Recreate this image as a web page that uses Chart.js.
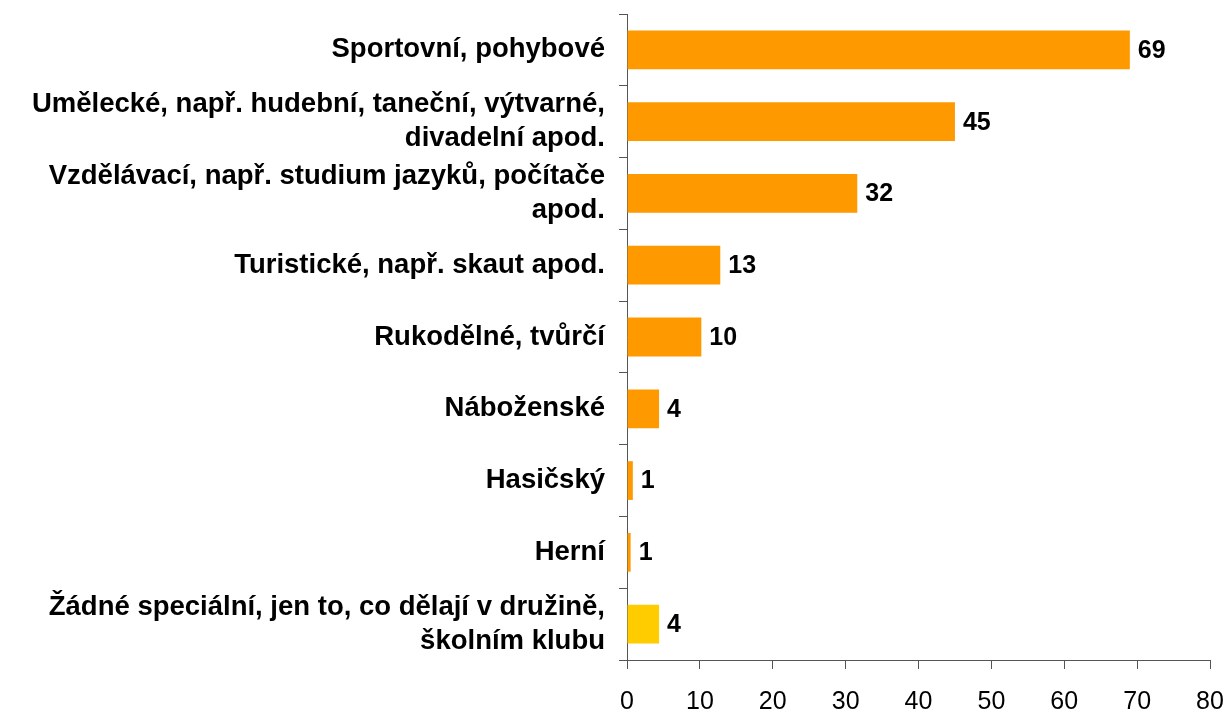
<!DOCTYPE html>
<html lang="cs">
<head>
  <meta charset="UTF-8">
  <title>Zájmové činnosti</title>
  <script src="https://cdn.jsdelivr.net/npm/chart.js"></script>
  <style>
    body {
      margin: 0;
      background: #fff;
    }
    #wrap {
      width: 1228px;
      height: 709px;
    }
  </style>
</head>
<body>

<div id="wrap"><canvas id="myChart"></canvas></div>

<script>
  // Data
  const categories = [
    'Sportovní, pohybové',
    ['Umělecké, např. hudební, taneční, výtvarné,', 'divadelní apod.'],
    ['Vzdělávací, např. studium jazyků, počítače', 'apod.'],
    'Turistické, např. skaut apod.',
    'Rukodělné, tvůrčí',
    'Náboženské',
    'Hasičský',
    'Herní',
    ['Žádné speciální, jen to, co dělají v družině,', 'školním klubu']
  ];
  const values = [69, 45, 31.6, 12.8, 10.2, 4.4, 0.8, 0.5, 4.4];
  const barColors = ['#FF9900', '#FF9900', '#FF9900', '#FF9900', '#FF9900', '#FF9900', '#FF9900', '#FF9900', '#FFCC00'];
  const xTicks = [0, 10, 20, 30, 40, 50, 60, 70, 80];

  const fontName = '"Liberation Sans", Arial, sans-serif';

  // value labels next to each bar
  const valueLabels = {
    id: 'valueLabels',
    afterDatasetsDraw(chart) {
      const ctx = chart.ctx;
      const meta = chart.getDatasetMeta(0);
      ctx.save();
      ctx.font = 'bold 25px ' + fontName;
      ctx.fillStyle = '#000';
      ctx.textAlign = 'left';
      ctx.textBaseline = 'middle';
      meta.data.forEach((bar, i) => {
        ctx.fillText(Math.round(values[i]), bar.x + 8, bar.y + 1);
      });
      ctx.restore();
    }
  };

  const ctx = document.getElementById('myChart').getContext('2d');
  const myChart = new Chart(ctx, {
    type: 'bar',
    data: {
      labels: categories,
      datasets: [{
        data: values,
        backgroundColor: barColors,
        borderWidth: 0,
        categoryPercentage: 1,
        barPercentage: 0.54
      }]
    },
    plugins: [valueLabels],
    options: {
      indexAxis: 'y',
      responsive: true,
      maintainAspectRatio: false,
      animation: false,
      layout: {
        padding: { top: 14, right: 18, left: 0, bottom: 0 }
      },
      plugins: {
        legend: { display: false },
        tooltip: { enabled: false }
      },
      scales: {
        x: {
          min: 0,
          max: 80,
          afterBuildTicks(scale) {
            scale.ticks = xTicks.map(v => ({ value: v }));
          },
          afterFit(scale) {
            scale.height = 49;
            scale.paddingLeft = 0;
            scale.paddingRight = 0;
          },
          grid: {
            drawOnChartArea: false,
            drawTicks: true,
            tickLength: 9,
            color: '#555'
          },
          border: { color: '#555', width: 1 },
          ticks: {
            color: '#000',
            padding: 18,
            font: { family: fontName, size: 25 }
          }
        },
        y: {
          afterFit(scale) {
            scale.width = 627;
            scale.paddingTop = 0;
            scale.paddingBottom = 0;
          },
          grid: {
            drawOnChartArea: false,
            drawTicks: true,
            tickLength: 8,
            offset: true,
            color: '#555'
          },
          border: { color: '#555', width: 1 },
          ticks: {
            color: '#000',
            padding: 14,
            autoSkip: false,
            font: { family: fontName, size: 27.5, weight: 'bold', lineHeight: '34px' }
          }
        }
      }
    }
  });
</script>

</body>
</html>
